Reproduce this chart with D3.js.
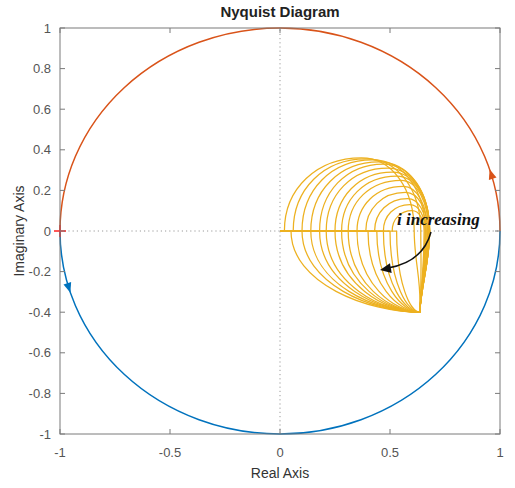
<!DOCTYPE html>
<html>
<head>
<meta charset="utf-8">
<script src="https://cdn.jsdelivr.net/npm/d3@7/dist/d3.min.js"></script>
<style>
  html, body { margin: 0; padding: 0; background: #fff; }
  svg { display: block; }
</style>
</head>
<body>
<script>
// Axis ticks
const xTicks = [-1, -0.5, 0, 0.5, 1];
const yTicks = [-1, -0.8, -0.6, -0.4, -0.2, 0, 0.2, 0.4, 0.6, 0.8, 1];

// Unit circle halves and the direction arrows on them (angle in degrees)
const circleHalves = [
  { name: "positive", from: 0, to: 180, color: "#D95319" },
  { name: "negative", from: 180, to: 360, color: "#0072BD" }
];
const circleArrowDeg = [16.3, 196.3];

// Family of loops, one per i: where each loop leaves the real axis upward,
// its highest point, where it comes back to the axis on the right,
// where its lower branch meets the axis, and the common lower tip.
const upperFoot = [0.02, 0.06, 0.10, 0.14, 0.18, 0.21, 0.25, 0.28, 0.31, 0.35, 0.39, 0.43, 0.47, 0.51];
const topRe     = [0.37, 0.39, 0.42, 0.45, 0.47, 0.49, 0.51, 0.53, 0.55, 0.56, 0.57, 0.58, 0.59, 0.60];
const topIm     = [0.36, 0.355, 0.35, 0.34, 0.33, 0.31, 0.29, 0.27, 0.25, 0.22, 0.19, 0.16, 0.13, 0.10];
const rightRe   = [0.61, 0.64, 0.66, 0.68, 0.68, 0.68, 0.68, 0.68, 0.675, 0.67, 0.67, 0.665, 0.66, 0.655];
const lowerFoot = [0.05, 0.10, 0.14, 0.18, 0.21, 0.25, 0.28, 0.31, 0.35, 0.40, 0.44, 0.47, 0.50, 0.53];
const tipRe = 0.635, tipIm = -0.40;

const W = 515, H = 488;
const svg = d3.select("body").append("svg").attr("width", W).attr("height", H);
svg.append("rect").attr("width", W).attr("height", H).attr("fill", "#fff");

const x = d3.scaleLinear().domain([-1, 1]).range([60, 500]);
const y = d3.scaleLinear().domain([-1, 1]).range([434, 28]);

const axisColor = "#7a7a7a";
const labelColor = "#555";
const font = "'Liberation Sans', Arial, sans-serif";
const yellow = "#EDB120";

// zero grid lines
svg.append("line").attr("x1", x(-1)).attr("x2", x(1)).attr("y1", y(0)).attr("y2", y(0))
  .attr("stroke", "#9a9a9a").attr("stroke-width", 1).attr("stroke-dasharray", "1.2,3");
svg.append("line").attr("x1", x(0)).attr("x2", x(0)).attr("y1", y(-1)).attr("y2", y(1))
  .attr("stroke", "#9a9a9a").attr("stroke-width", 1).attr("stroke-dasharray", "1.2,3");

// yellow loops, drawn as bezier pieces in data space mapped through the scales
const plotG = svg.append("g");
const kU = 0.58;
upperFoot.forEach((U, i) => {
  const Tx = topRe[i], Ty = topIm[i], R = rightRe[i], M = lowerFoot[i];
  const p = d3.path();
  // along the real axis from the origin
  p.moveTo(x(0), y(0));
  p.lineTo(x(M), y(0));
  // upper arc
  p.moveTo(x(U), y(0));
  p.bezierCurveTo(x(U), y(kU * Ty), x(Tx - kU * (Tx - U)), y(Ty), x(Tx), y(Ty));
  p.bezierCurveTo(x(Tx + kU * (R - Tx)), y(Ty), x(R), y(kU * Ty), x(R), y(0));
  // right flank down to the tip
  p.bezierCurveTo(x(R), y(-0.15), x(tipRe + 0.01), y(tipIm + 0.15), x(tipRe), y(tipIm));
  // lower branch back to the axis
  p.bezierCurveTo(x(M + 0.6 * (tipRe - M)), y(-0.40), x(M), y(-0.26), x(M), y(0));
  plotG.append("path").attr("d", p.toString())
    .attr("fill", "none").attr("stroke", yellow).attr("stroke-width", 1.25);
});

// unit circle
const rx = x(1) - x(0), ry = y(0) - y(1);
circleHalves.forEach(h => {
  const a0 = h.from * Math.PI / 180, a1 = h.to * Math.PI / 180;
  const p = `M${x(Math.cos(a0))},${y(Math.sin(a0))} A${rx},${ry} 0 0 0 ${x(Math.cos(a1))},${y(Math.sin(a1))}`;
  svg.append("path").attr("d", p).attr("fill", "none").attr("stroke", h.color).attr("stroke-width", 1.5);
});
circleArrowDeg.forEach((deg, i) => {
  const a = deg * Math.PI / 180;
  const cx = x(Math.cos(a)), cy = y(Math.sin(a));
  const dx = -Math.sin(a) * rx, dy = -Math.cos(a) * ry;
  const ang = Math.atan2(dy, dx) * 180 / Math.PI;
  svg.append("path").attr("d", "M5,0 L-5,-4 L-5,4 Z")
    .attr("transform", `translate(${cx},${cy}) rotate(${ang})`)
    .attr("fill", circleHalves[i].color);
});

// critical point marker
svg.append("path")
  .attr("d", `M${x(-1) - 6},${y(0)} H${x(-1) + 6} M${x(-1)},${y(0) - 6} V${y(0) + 6}`)
  .attr("stroke", "#ff2020").attr("stroke-width", 1.5);

// axes box and ticks
svg.append("rect").attr("x", x(-1)).attr("y", y(1)).attr("width", x(1) - x(-1)).attr("height", y(-1) - y(1))
  .attr("fill", "none").attr("stroke", axisColor).attr("stroke-width", 1);
const tl = 5;
xTicks.forEach(t => {
  svg.append("line").attr("x1", x(t)).attr("x2", x(t)).attr("y1", y(-1)).attr("y2", y(-1) - tl).attr("stroke", axisColor);
  svg.append("line").attr("x1", x(t)).attr("x2", x(t)).attr("y1", y(1)).attr("y2", y(1) + tl).attr("stroke", axisColor);
  svg.append("text").attr("x", x(t)).attr("y", 457).attr("text-anchor", "middle")
    .attr("font-family", font).attr("font-size", 13).attr("fill", labelColor).text(String(t));
});
yTicks.forEach(t => {
  svg.append("line").attr("x1", x(-1)).attr("x2", x(-1) + tl).attr("y1", y(t)).attr("y2", y(t)).attr("stroke", axisColor);
  svg.append("line").attr("x1", x(1)).attr("x2", x(1) - tl).attr("y1", y(t)).attr("y2", y(t)).attr("stroke", axisColor);
  svg.append("text").attr("x", 51).attr("y", y(t) + 4.5).attr("text-anchor", "end")
    .attr("font-family", font).attr("font-size", 13).attr("fill", labelColor).text(String(Math.round(t * 10) / 10));
});

// titles
svg.append("text").attr("x", 280).attr("y", 17).attr("text-anchor", "middle")
  .attr("font-family", font).attr("font-size", 15).attr("font-weight", "bold").attr("fill", "#222")
  .text("Nyquist Diagram");
svg.append("text").attr("x", 280).attr("y", 478).attr("text-anchor", "middle")
  .attr("font-family", font).attr("font-size", 14).attr("fill", "#333").text("Real Axis");
svg.append("text").attr("transform", `translate(24,${y(0)}) rotate(-90)`).attr("text-anchor", "middle")
  .attr("font-family", font).attr("font-size", 14).attr("fill", "#333").text("Imaginary Axis");

// annotation
svg.append("text").attr("x", 397).attr("y", 225)
  .attr("font-family", "'Liberation Serif', 'Times New Roman', serif").attr("font-size", 17)
  .attr("font-style", "italic").attr("font-weight", "bold").attr("fill", "#111").text("i increasing");
svg.append("path").attr("d", "M431,232 Q423,262 388,268").attr("fill", "none").attr("stroke", "#111").attr("stroke-width", 1.5);
svg.append("path").attr("d", "M0,0 L-11,-5 L-11,5 Z")
  .attr("transform", "translate(380,270) rotate(170)").attr("fill", "#111");
</script>
</body>
</html>
